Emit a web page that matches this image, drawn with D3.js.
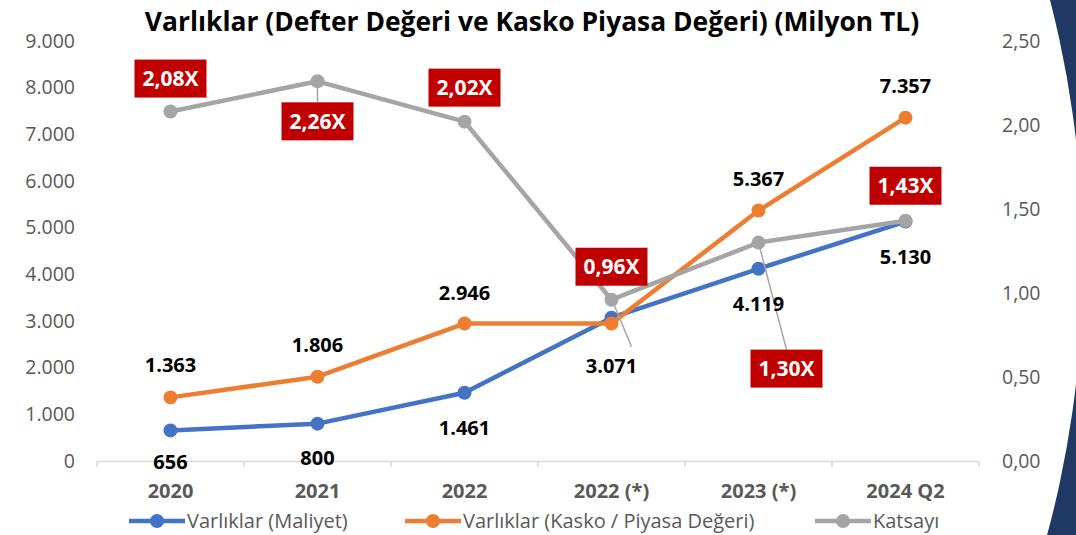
<!DOCTYPE html>
<html>
<head>
<meta charset="utf-8">
<script src="https://cdn.jsdelivr.net/npm/d3@7"></script>
<style>
  body { margin: 0; background: #fff; }
  svg text { font-family: "Open Sans", sans-serif; }
</style>
</head>
<body>
<div id="container"></div>
<script>
const categories = ['2020', '2021', '2022', '2022 (*)', '2023 (*)', '2024 Q2']
const maliyet = [656, 800, 1461, 3071, 4119, 5130]
const kasko = [1363, 1806, 2946, 2946, 5367, 7357]
const katsayi = [2.08, 2.26, 2.02, 0.96, 1.30, 1.43]
const leftTicks = [0, 1000, 2000, 3000, 4000, 5000, 6000, 7000, 8000, 9000]
const rightTicks = [0, 0.5, 1, 1.5, 2, 2.5]
const seriesNames = ['Varlıklar (Maliyet)', 'Varlıklar (Kasko / Piyasa Değeri)', 'Katsayı']

const width = 1076
const height = 535
const colors = ['#4472c4', '#ed7d31', '#a5a5a5']
const boxRed = '#c00000'

// label placement per point: [dx, dy] from the marker
const maliyetOffsets = [[0, 32], [0, 34], [0, 35], [0, 48], [0, 35], [0, 35]]
const kaskoOffsets = [[0, -32], [0, -32], [0, -31], null, [0, -32], [0, -32]]
const katsayiOffsets = [[0, -33], [0, 40], [0, -34], [0, -33], [28, 126], [0, -35]]

const svg = d3.select('#container')
  .append('svg')
  .attr('width', width)
  .attr('height', height)

// decorative navy frame on the right
svg.append('rect')
  .attr('x', 980).attr('y', 0)
  .attr('width', 96).attr('height', height)
  .style('fill', '#1f3864')
svg.append('ellipse')
  .attr('cx', 540).attr('cy', 262)
  .attr('rx', 543).attr('ry', 763)
  .style('fill', '#fff')

const x = d3.scaleBand().domain(categories).range([97, 979])
const yLeft = d3.scaleLinear().domain([0, 9000]).range([461, 41])
const yRight = d3.scaleLinear().domain([0, 2.5]).range([461, 41])
const cx = d => x(d) + x.bandwidth() / 2

const fmtInt = v => d3.format(',')(v).replace(/,/g, '.')
const fmtDec = v => d3.format('.2f')(v).replace('.', ',')

// title
svg.append('text')
  .attr('x', 532).attr('y', 31)
  .attr('text-anchor', 'middle')
  .style('font-size', '26.4px')
  .style('font-weight', 'bold')
  .style('fill', '#000')
  .text('Varlıklar (Defter Değeri ve Kasko Piyasa Değeri) (Milyon TL)')

// left axis
const leftAxis = svg.append('g')
  .attr('transform', 'translate(75,0)')
  .call(d3.axisLeft(yLeft).tickValues(leftTicks).tickFormat(fmtInt).tickSize(0).tickPadding(0))
leftAxis.select('.domain').remove()
leftAxis.selectAll('text')
  .style('font-size', '19.5px')
  .style('fill', '#595959')

// right axis
const rightAxis = svg.append('g')
  .attr('transform', 'translate(1002,0)')
  .call(d3.axisRight(yRight).tickValues(rightTicks).tickFormat(fmtDec).tickSize(0).tickPadding(0))
rightAxis.select('.domain').remove()
rightAxis.selectAll('text')
  .style('font-size', '19.5px')
  .style('fill', '#595959')

// bottom axis
const bottomAxis = svg.append('g')
  .attr('transform', 'translate(0,461)')
  .call(d3.axisBottom(x).tickSize(0).tickPadding(23))
bottomAxis.select('.domain').style('stroke', '#d9d9d9').style('stroke-width', 1.5)
bottomAxis.selectAll('text')
  .style('font-size', '20px')
  .style('font-weight', 'bold')
  .style('fill', '#595959')
svg.append('g').selectAll('line')
  .data(d3.range(categories.length + 1))
  .enter().append('line')
  .attr('x1', i => 97 + i * x.bandwidth())
  .attr('x2', i => 97 + i * x.bandwidth())
  .attr('y1', 461).attr('y2', 467)
  .style('stroke', '#d9d9d9')
  .style('stroke-width', 1.5)

// lines and markers
function drawSeries(values, scale, color) {
  const line = d3.line()
    .x((d, i) => cx(categories[i]))
    .y(d => scale(d))
  svg.append('path')
    .datum(values)
    .attr('d', line)
    .style('fill', 'none')
    .style('stroke', color)
    .style('stroke-width', 4.5)
    .style('stroke-linejoin', 'round')
  svg.append('g').selectAll('circle')
    .data(values)
    .enter().append('circle')
    .attr('cx', (d, i) => cx(categories[i]))
    .attr('cy', d => scale(d))
    .attr('r', 7)
    .style('fill', color)
}

drawSeries(maliyet, yLeft, colors[0])
drawSeries(kasko, yLeft, colors[1])
drawSeries(katsayi, yRight, colors[2])

// leader lines
svg.append('line')
  .attr('x1', cx(categories[3]) + 3).attr('y1', yLeft(maliyet[3]) - 12)
  .attr('x2', cx(categories[3]) + 20).attr('y2', yLeft(maliyet[3]) + 29)
  .style('stroke', '#a5a5a5').style('stroke-width', 1.5)
svg.append('line')
  .attr('x1', cx(categories[1])).attr('y1', yRight(katsayi[1]))
  .attr('x2', cx(categories[1])).attr('y2', yRight(katsayi[1]) + katsayiOffsets[1][1] - 19)
  .style('stroke', '#a5a5a5').style('stroke-width', 1.5)
svg.append('line')
  .attr('x1', cx(categories[4])).attr('y1', yRight(katsayi[4]))
  .attr('x2', cx(categories[4]) + katsayiOffsets[4][0]).attr('y2', yRight(katsayi[4]) + katsayiOffsets[4][1] - 19)
  .style('stroke', '#a5a5a5').style('stroke-width', 1.5)

// value labels
function drawLabels(values, offsets) {
  svg.append('g').selectAll('text')
    .data(values.map((v, i) => ({ v: v, i: i, o: offsets[i] })).filter(d => d.o))
    .enter().append('text')
    .attr('x', d => cx(categories[d.i]) + d.o[0])
    .attr('y', d => yLeft(d.v) + d.o[1])
    .attr('dy', '0.35em')
    .attr('text-anchor', 'middle')
    .style('font-size', '20px')
    .style('font-weight', 'bold')
    .style('fill', '#000')
    .text(d => fmtInt(d.v))
}
drawLabels(maliyet, maliyetOffsets)
drawLabels(kasko, kaskoOffsets)

const boxes = svg.append('g').selectAll('g')
  .data(katsayi.map((v, i) => ({ v: v, i: i, o: katsayiOffsets[i] })))
  .enter().append('g')
  .attr('transform', d => 'translate(' + (cx(categories[d.i]) + d.o[0]) + ',' + (yRight(d.v) + d.o[1]) + ')')
boxes.append('rect')
  .attr('x', -36).attr('y', -19)
  .attr('width', 72).attr('height', 38)
  .style('fill', boxRed)
boxes.append('text')
  .attr('text-anchor', 'middle')
  .attr('dy', '0.36em')
  .style('font-size', '21px')
  .style('font-weight', 'bold')
  .style('fill', '#fff')
  .text(d => fmtDec(d.v) + 'X')

// legend
const legendX = [157, 433, 843]
const legend = svg.append('g').selectAll('g')
  .data(seriesNames)
  .enter().append('g')
  .attr('transform', (d, i) => 'translate(' + legendX[i] + ',521)')
legend.append('line')
  .attr('x1', -28).attr('x2', 28)
  .style('stroke', (d, i) => colors[i])
  .style('stroke-width', 4.5)
legend.append('circle')
  .attr('r', 7)
  .style('fill', (d, i) => colors[i])
legend.append('text')
  .attr('x', 30)
  .attr('dy', '0.35em')
  .style('font-size', '20px')
  .style('fill', '#595959')
  .text(d => d)
</script>
</body>
</html>
